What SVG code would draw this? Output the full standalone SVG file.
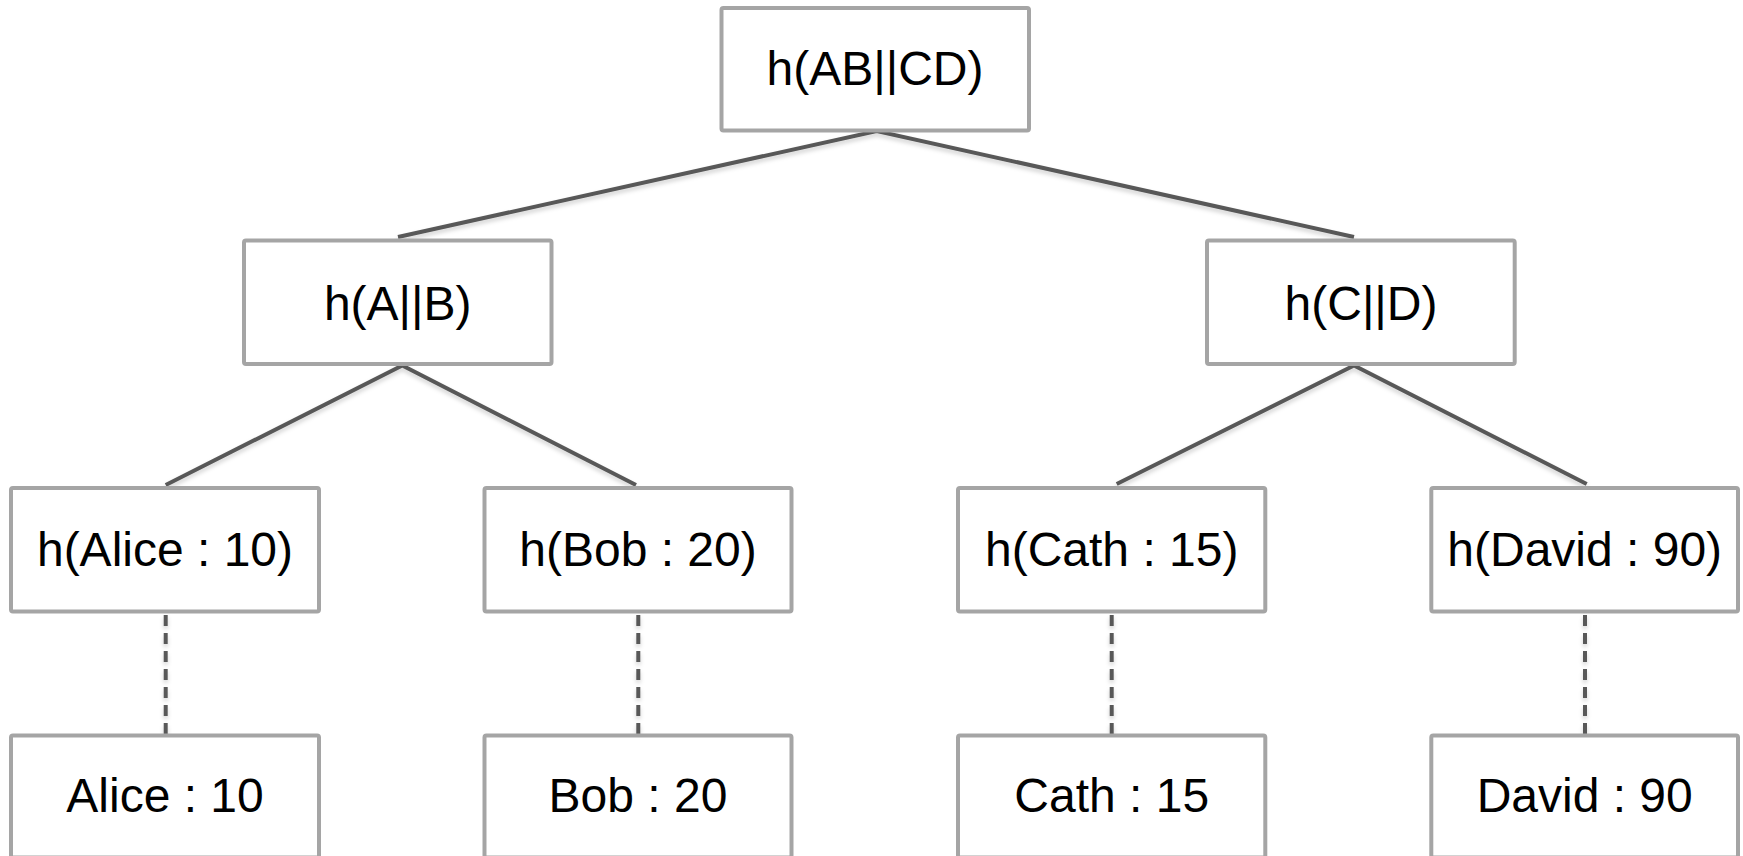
<svg xmlns="http://www.w3.org/2000/svg" width="1743" height="856" viewBox="0 0 1743 856">
  <defs>
    <filter id="soft" x="-10%" y="-10%" width="120%" height="140%">
      <feDropShadow dx="0" dy="3" stdDeviation="2" flood-color="#000" flood-opacity="0.18"/>
    </filter>
    <style>
      .box { fill: #ffffff; stroke: #a5a5a5; stroke-width: 4; }
      .label { font-family: "Liberation Sans", Arial, sans-serif; font-size: 48px; fill: #000000; text-anchor: middle; }
      .edge { stroke: #595959; stroke-width: 4; fill: none; stroke-linejoin: miter; }
      .link { stroke: #595959; stroke-width: 4; fill: none; stroke-dasharray: 11 7; }
    </style>
  </defs>

  <rect width="1743" height="856" fill="#ffffff"/>

  <!-- tree edges and leaf links -->
  <g id="connectors" filter="url(#soft)">
    <polyline class="edge" points="398,237 876.7,131 1354,237"/>
    <polyline class="edge" points="165.7,485 402.3,365.5 636,485"/>
    <polyline class="edge" points="1116.7,484 1354,365.5 1586.7,484"/>
    <line class="link" x1="165.7" y1="615" x2="165.7" y2="734"/>
    <line class="link" x1="638.3" y1="615" x2="638.3" y2="734"/>
    <line class="link" x1="1111.7" y1="615" x2="1111.7" y2="734"/>
    <line class="link" x1="1585" y1="615" x2="1585" y2="734"/>
  </g>

  <!-- root -->
  <g id="root">
    <rect class="box" x="721.5" y="8" width="307.5" height="122.5" rx="2"/>
    <text class="label" x="875" y="85">h(AB||CD)</text>
  </g>

  <!-- inner hashes -->
  <g id="hash-ab">
    <rect class="box" x="244" y="240.5" width="307.5" height="123.5" rx="2"/>
    <text class="label" x="397.7" y="319.5">h(A||B)</text>
  </g>
  <g id="hash-cd">
    <rect class="box" x="1207" y="240.5" width="307.7" height="123.5" rx="2"/>
    <text class="label" x="1361" y="319.5">h(C||D)</text>
  </g>

  <!-- leaf hashes -->
  <g id="hash-alice">
    <rect class="box" x="11" y="488" width="308" height="123.5" rx="2"/>
    <text class="label" x="165" y="566">h(Alice : 10)</text>
  </g>
  <g id="hash-bob">
    <rect class="box" x="484.5" y="488" width="307" height="123.5" rx="2"/>
    <text class="label" x="638" y="566">h(Bob : 20)</text>
  </g>
  <g id="hash-cath">
    <rect class="box" x="958" y="488" width="307.3" height="123.5" rx="2"/>
    <text class="label" x="1111.7" y="566">h(Cath : 15)</text>
  </g>
  <g id="hash-david">
    <rect class="box" x="1431.3" y="488" width="306.7" height="123.5" rx="2"/>
    <text class="label" x="1584.7" y="566">h(David : 90)</text>
  </g>

  <!-- data records -->
  <g id="leaf-alice">
    <rect class="box" x="11" y="735.5" width="308" height="122" rx="2"/>
    <text class="label" x="165" y="812">Alice : 10</text>
  </g>
  <g id="leaf-bob">
    <rect class="box" x="484.5" y="735.5" width="307" height="122" rx="2"/>
    <text class="label" x="638" y="812">Bob : 20</text>
  </g>
  <g id="leaf-cath">
    <rect class="box" x="958" y="735.5" width="307.3" height="122" rx="2"/>
    <text class="label" x="1111.7" y="812">Cath : 15</text>
  </g>
  <g id="leaf-david">
    <rect class="box" x="1431.3" y="735.5" width="306.7" height="122" rx="2"/>
    <text class="label" x="1584.7" y="812">David : 90</text>
  </g>
</svg>
